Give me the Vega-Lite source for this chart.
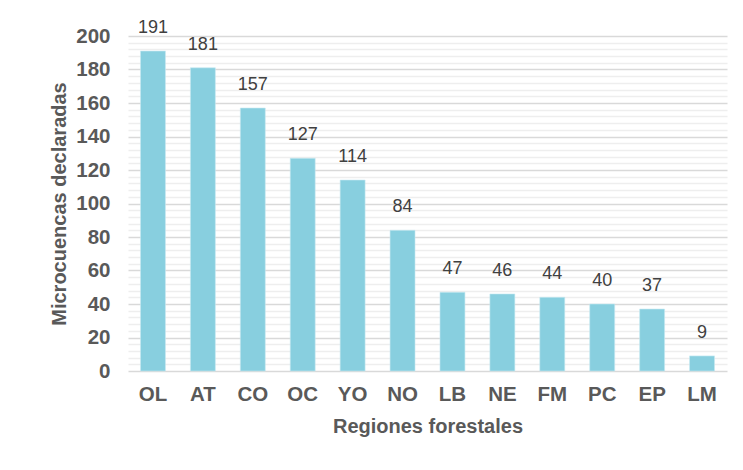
{
  "$schema": "https://vega.github.io/schema/vega-lite/v6.json",
  "width": 599,
  "height": 335,
  "autosize": {"type": "none"},
  "padding": {"left": 128, "top": 36, "right": 16, "bottom": 99},
  "background": "white",
  "config": {
    "view": {"stroke": null},
    "font": "Liberation Sans",
    "axis": {"labelColor": "#595959", "titleColor": "#595959"}
  },
  "data": {
    "values": [
      {"region": "OL", "value": 191},
      {"region": "AT", "value": 181},
      {"region": "CO", "value": 157},
      {"region": "OC", "value": 127},
      {"region": "YO", "value": 114},
      {"region": "NO", "value": 84},
      {"region": "LB", "value": 47},
      {"region": "NE", "value": 46},
      {"region": "FM", "value": 44},
      {"region": "PC", "value": 40},
      {"region": "EP", "value": 37},
      {"region": "LM", "value": 9}
    ]
  },
  "encoding": {
    "x": {
      "field": "region",
      "type": "nominal",
      "sort": null,
      "scale": {"paddingInner": 0.5, "paddingOuter": 0.25},
      "axis": {
        "title": "Regiones forestales",
        "labelAngle": 0,
        "labelFontSize": 20.5,
        "labelFontWeight": "bold",
        "labelPadding": 13,
        "titleFontSize": 20,
        "titleFontWeight": "bold",
        "titlePadding": 12,
        "ticks": false,
        "domain": false,
        "grid": false
      }
    }
  },
  "layer": [
    {
      "mark": {"type": "bar", "opacity": 0},
      "encoding": {
        "y": {
          "field": "value",
          "type": "quantitative",
          "scale": {"domain": [0, 200], "nice": false},
          "axis": {
            "orient": "left",
            "values": [4, 8, 12, 16, 24, 28, 32, 36, 44, 48, 52, 56, 64, 68, 72, 76, 84, 88, 92, 96, 104, 108, 112, 116, 124, 128, 132, 136, 144, 148, 152, 156, 164, 168, 172, 176, 184, 188, 192, 196],
            "grid": true,
            "gridColor": "#EEEEEE",
            "gridWidth": 1.5,
            "labels": false,
            "ticks": false,
            "domain": false,
            "title": null,
            "zindex": 0
          }
        }
      }
    },
    {
      "mark": {"type": "bar", "opacity": 0},
      "encoding": {
        "y": {
          "field": "value",
          "type": "quantitative",
          "scale": {"domain": [0, 200], "nice": false},
          "axis": {
            "orient": "left",
            "values": [0, 20, 40, 60, 80, 100, 120, 140, 160, 180, 200],
            "grid": true,
            "gridColor": "#D9D9D9",
            "gridWidth": 1.5,
            "labelFontSize": 20.5,
            "labelFontWeight": "bold",
            "labelPadding": 18,
            "ticks": false,
            "domain": false,
            "title": "Microcuencas declaradas",
            "titleFontSize": 20,
            "titleFontWeight": "bold",
            "titlePadding": 6,
            "zindex": 0
          }
        }
      }
    },
    {
      "mark": {"type": "rule", "color": "#D9D9D9", "strokeWidth": 2},
      "encoding": {
        "y": {"datum": 0, "type": "quantitative", "axis": null}
      }
    },
    {
      "mark": {"type": "bar", "color": "#88CFDF", "stroke": "#C8EAF1", "strokeWidth": 0.6},
      "encoding": {
        "y": {"field": "value", "type": "quantitative", "axis": null}
      }
    },
    {
      "mark": {"type": "text", "baseline": "bottom", "dy": -14, "fontSize": 18, "color": "#404040"},
      "encoding": {
        "y": {"field": "value", "type": "quantitative", "axis": null},
        "text": {"field": "value", "type": "quantitative"}
      }
    }
  ],
  "resolve": {"axis": {"y": "independent"}}
}
